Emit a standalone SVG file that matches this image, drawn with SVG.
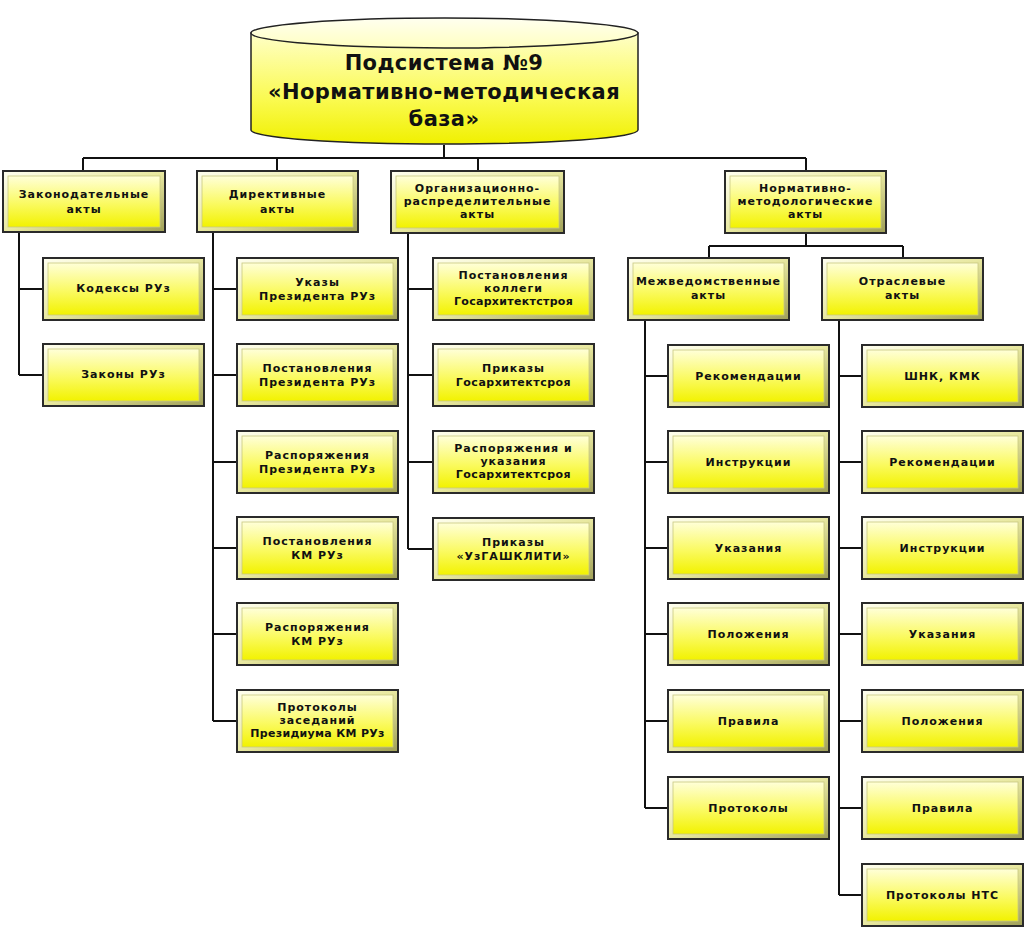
<svg xmlns="http://www.w3.org/2000/svg" width="1026" height="931" viewBox="0 0 1026 931">
<defs>
<linearGradient id="yg" x1="0" y1="0" x2="0" y2="1">
<stop offset="0" stop-color="#FFFFD8"/>
<stop offset="0.55" stop-color="#FAFA60"/>
<stop offset="1" stop-color="#F2F200"/>
</linearGradient>
<linearGradient id="bev" x1="0" y1="0" x2="1" y2="1">
<stop offset="0" stop-color="#FFFFF0"/>
<stop offset="0.5" stop-color="#E8E8A0"/>
<stop offset="1" stop-color="#A0A058"/>
</linearGradient>
<linearGradient id="cyl" x1="0" y1="0" x2="0" y2="1">
<stop offset="0" stop-color="#FFFFC8"/>
<stop offset="0.6" stop-color="#FAFA50"/>
<stop offset="1" stop-color="#F0F000"/>
</linearGradient>
<linearGradient id="cyltop" x1="0" y1="0" x2="0" y2="1">
<stop offset="0" stop-color="#FFFFF0"/>
<stop offset="1" stop-color="#FFFFC0"/>
</linearGradient>
<g id="box">
<rect x="0" y="0" width="161" height="62" fill="url(#bev)" stroke="#2a2a2a" stroke-width="2"/>
<rect x="5" y="5" width="151" height="52" fill="url(#yg)" stroke="#c8c880" stroke-width="0.8"/>
</g>
</defs>
<style>
.t{font-family:"DejaVu Sans","Verdana",sans-serif;font-weight:bold;font-size:11px;letter-spacing:1px;fill:#111;text-anchor:middle}
.h{font-family:"DejaVu Sans","Verdana",sans-serif;font-weight:bold;font-size:21px;letter-spacing:0.4px;fill:#111;text-anchor:middle}
.c{fill:none;stroke:#111;stroke-width:2}
.b{stroke:#2a2a2a;stroke-width:2}
.bi{stroke:#c8c880;stroke-width:0.8}
</style>
<rect width="1026" height="931" fill="#ffffff"/>

<g id="connectors" class="c">
<path d="M444 145V158M83 158H806M83 158V171M277 158V171M478 158V171M806 158V171"/>
<path d="M19 232V375M19 289H43M19 375H43"/>
<path d="M213 232V721M213 289H237M213 375H237M213 462H237M213 548H237M213 634H237M213 721H237"/>
<path d="M408 233V549M408 289H433M408 375H433M408 462H433M408 549H433"/>
<path d="M806 233V246M709 246H903M709 246V258M903 246V258"/>
<path d="M645 320V808M645 376H668M645 462H668M645 548H668M645 634H668M645 721H668M645 808H668"/>
<path d="M839 320V895M839 376H862M839 462H862M839 548H862M839 634H862M839 721H862M839 808H862M839 895H862"/>
</g>

<g id="root">
<path d="M251 33V130A193.5 14 0 0 0 638 130V33Z" fill="url(#cyl)" stroke="#222" stroke-width="1.5"/>
<ellipse cx="444.5" cy="33" rx="193.5" ry="15" fill="url(#cyltop)" stroke="#222" stroke-width="1.5"/>
<text class="h" x="444" y="70">Подсистема №9</text>
<text class="h" x="444" y="99">«Нормативно-методическая</text>
<text class="h" x="444" y="126">база»</text>
</g>

<g id="n1"><rect x="3" y="171" width="162" height="61" fill="url(#bev)" class="b"/><rect x="8" y="176" width="152" height="51" fill="url(#yg)" class="bi"/>
<text class="t" x="84" y="198">Законодательные</text><text class="t" x="84" y="213">акты</text></g>
<g id="n2"><rect x="197" y="171" width="161" height="61" fill="url(#bev)" class="b"/><rect x="202" y="176" width="151" height="51" fill="url(#yg)" class="bi"/>
<text class="t" x="277.5" y="198">Директивные</text><text class="t" x="277.5" y="213">акты</text></g>
<g id="n3"><rect x="391" y="171" width="173" height="62" fill="url(#bev)" class="b"/><rect x="396" y="176" width="163" height="52" fill="url(#yg)" class="bi"/>
<text class="t" x="477.5" y="192">Организационно-</text><text class="t" x="477.5" y="205">распределительные</text><text class="t" x="477.5" y="218">акты</text></g>
<g id="n4"><rect x="725" y="171" width="161" height="62" fill="url(#bev)" class="b"/><rect x="730" y="176" width="151" height="52" fill="url(#yg)" class="bi"/>
<text class="t" x="805.5" y="192">Нормативно-</text><text class="t" x="805.5" y="205">методологические</text><text class="t" x="805.5" y="218">акты</text></g>
<g id="n41"><use href="#box" x="628" y="258"/>
<text class="t" x="708.5" y="285">Межведомственные</text><text class="t" x="708.5" y="299">акты</text></g>
<g id="n42"><use href="#box" x="822" y="258"/>
<text class="t" x="902.5" y="285">Отраслевые</text><text class="t" x="902.5" y="299">акты</text></g>

<g id="n11"><use href="#box" x="43" y="258"/><text class="t" x="123.5" y="292">Кодексы РУз</text></g>
<g id="n12"><use href="#box" x="43" y="344"/><text class="t" x="123.5" y="378">Законы РУз</text></g>

<g id="n21"><use href="#box" x="237" y="258"/><text class="t" x="317.5" y="286">Указы</text><text class="t" x="317.5" y="300">Президента РУз</text></g>
<g id="n22"><use href="#box" x="237" y="344"/><text class="t" x="317.5" y="372">Постановления</text><text class="t" x="317.5" y="386">Президента РУз</text></g>
<g id="n23"><use href="#box" x="237" y="431"/><text class="t" x="317.5" y="459">Распоряжения</text><text class="t" x="317.5" y="473">Президента РУз</text></g>
<g id="n24"><use href="#box" x="237" y="517"/><text class="t" x="317.5" y="545">Постановления</text><text class="t" x="317.5" y="559">КМ РУз</text></g>
<g id="n25"><use href="#box" x="237" y="603"/><text class="t" x="317.5" y="631">Распоряжения</text><text class="t" x="317.5" y="645">КМ РУз</text></g>
<g id="n26"><use href="#box" x="237" y="690"/><text class="t" x="317.5" y="711">Протоколы</text><text class="t" x="317.5" y="724">заседаний</text><text class="t" x="317.5" y="737" style="letter-spacing:0.3px">Президиума КМ РУз</text></g>

<g id="n31"><use href="#box" x="433" y="258"/><text class="t" x="513.5" y="279">Постановления</text><text class="t" x="513.5" y="292">коллеги</text><text class="t" x="513.5" y="305" style="letter-spacing:0.3px">Госархитектстроя</text></g>
<g id="n32"><use href="#box" x="433" y="344"/><text class="t" x="513.5" y="372">Приказы</text><text class="t" x="513.5" y="386" style="letter-spacing:0.5px">Госархитектсроя</text></g>
<g id="n33"><use href="#box" x="433" y="431"/><text class="t" x="513.5" y="452">Распоряжения и</text><text class="t" x="513.5" y="465">указания</text><text class="t" x="513.5" y="478" style="letter-spacing:0.5px">Госархитектсроя</text></g>
<g id="n34"><use href="#box" x="433" y="518"/><text class="t" x="513.5" y="546">Приказы</text><text class="t" x="513.5" y="560">«УзГАШКЛИТИ»</text></g>

<g id="n411"><use href="#box" x="668" y="345"/><text class="t" x="748.5" y="380">Рекомендации</text></g>
<g id="n412"><use href="#box" x="668" y="431"/><text class="t" x="748.5" y="466">Инструкции</text></g>
<g id="n413"><use href="#box" x="668" y="517"/><text class="t" x="748.5" y="552">Указания</text></g>
<g id="n414"><use href="#box" x="668" y="603"/><text class="t" x="748.5" y="638">Положения</text></g>
<g id="n415"><use href="#box" x="668" y="690"/><text class="t" x="748.5" y="725">Правила</text></g>
<g id="n416"><use href="#box" x="668" y="777"/><text class="t" x="748.5" y="812">Протоколы</text></g>

<g id="n421"><use href="#box" x="862" y="345"/><text class="t" x="942.5" y="380">ШНК, КМК</text></g>
<g id="n422"><use href="#box" x="862" y="431"/><text class="t" x="942.5" y="466">Рекомендации</text></g>
<g id="n423"><use href="#box" x="862" y="517"/><text class="t" x="942.5" y="552">Инструкции</text></g>
<g id="n424"><use href="#box" x="862" y="603"/><text class="t" x="942.5" y="638">Указания</text></g>
<g id="n425"><use href="#box" x="862" y="690"/><text class="t" x="942.5" y="725">Положения</text></g>
<g id="n426"><use href="#box" x="862" y="777"/><text class="t" x="942.5" y="812">Правила</text></g>
<g id="n427"><use href="#box" x="862" y="864"/><text class="t" x="942.5" y="899">Протоколы  НТС</text></g>
</svg>
